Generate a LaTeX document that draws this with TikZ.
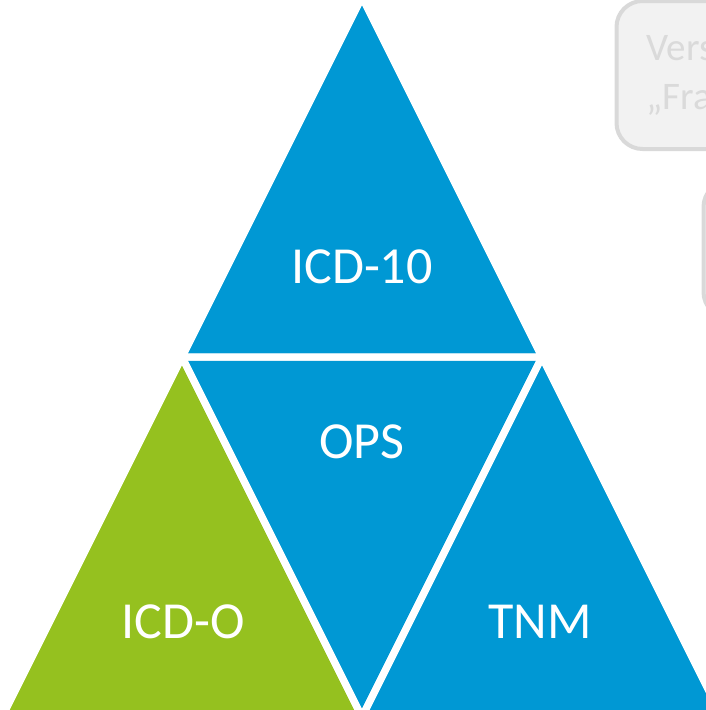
\documentclass[tikz,border=0pt]{standalone}
\usepackage{fontspec}
\setmainfont{Carlito}
\usepackage{xcolor}
\usepackage{tikz}
\usetikzlibrary{positioning, calc}

\definecolor{triblue}{RGB}{0,152,212}
\definecolor{trigreen}{RGB}{149,193,31}
\definecolor{boxfill}{RGB}{242,242,242}
\definecolor{boxline}{RGB}{217,217,217}
\definecolor{boxtext}{RGB}{218,218,218}

\begin{document}
\begin{tikzpicture}[x=1pt, y=-1pt]
				\tikzset{tri/.style={draw=white, line width=7pt, line join=miter}}
				\tikzset{label/.style={text=white, font=\fontsize{52}{60}\selectfont, inner sep=0pt}}
				\tikzset{graybox/.style={draw=boxline, fill=boxfill, line width=4pt, rounded corners=26pt, anchor=north west}}

				\useasboundingbox (0,0) rectangle (706,710);
				\clip (0,0) rectangle (706,710);

				% Corners
				\coordinate (apex) at (362,-3);
				\coordinate (midL) at (182,357);
				\coordinate (midR) at (542,357);
				\coordinate (botL) at (2,717);
				\coordinate (botM) at (362,717);
				\coordinate (botR) at (722,717);

				% Triangles
				\fill [tri, fill=triblue] (apex) -- (midR) -- (midL) -- cycle;
				\fill [tri, fill=trigreen] (midL) -- (botM) -- (botL) -- cycle;
				\fill [tri, fill=triblue] (midL) -- (midR) -- (botM) -- cycle;
				\fill [tri, fill=triblue] (midR) -- (botR) -- (botM) -- cycle;
				\draw [tri] (apex) -- (midR) -- (midL) -- cycle;
				\draw [tri] (midL) -- (botM) -- (botL) -- cycle;
				\draw [tri] (midR) -- (botR) -- (botM) -- cycle;

				% Labels
				\node (icd10) [label] at (362,267) {ICD-10};
				\node (ops) [label] at (362,442) {OPS};
				\node (icdo) [label] at (183,622) {ICD-O};
				\node (tnm) [label] at (540,622) {TNM};

				% Faded boxes
				\node (box1) [graybox, minimum width=230pt, minimum height=148pt, inner xsep=25pt, text width=170pt, align=left, text=boxtext, font=\fontsize{39}{49}\selectfont] at (614.5,-1) {Vers\\„Fra};
				\node (box2) [graybox, minimum width=120pt, minimum height=137pt] at (701.5,179) {};

			\end{tikzpicture}
\end{document}
